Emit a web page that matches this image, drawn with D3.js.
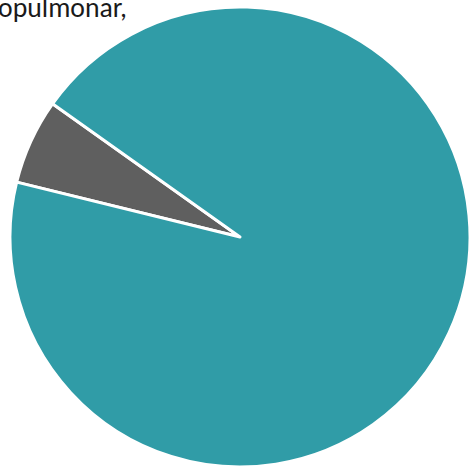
<!DOCTYPE html>
<html>
<head>
<meta charset="utf-8">
<script src="https://cdn.jsdelivr.net/npm/d3@7"></script>
<style>
  html, body { margin: 0; padding: 0; background: #fff; overflow: hidden; }
</style>
</head>
<body>
<script>
// data
var labels = ["Otros", "Cardiopulmonar"];
var values = [6, 94];
var colors = ["#5f5f5f", "#309ca7"];
var titleText = "opulmonar,";

// layout magic numbers
var w = 469;
var h = 468;
var cx = 240;
var cy = 237;
var radius = 230;
var firstAngle = -76.2 * Math.PI / 180;

var svg = d3.select("body")
            .append("svg")
            .attr("width", w)
            .attr("height", h);

var pie = d3.pie()
            .sort(null)
            .startAngle(firstAngle)
            .endAngle(firstAngle + 2 * Math.PI);

var arc = d3.arc()
            .innerRadius(0)
            .outerRadius(radius);

var color = d3.scaleOrdinal()
              .domain(labels)
              .range(colors);

svg.append("g")
   .attr("transform", "translate(" + cx + "," + cy + ")")
   .selectAll("path")
   .data(pie(values))
   .enter()
   .append("path")
   .attr("d", arc)
   .attr("fill", function(d, i) { return color(labels[i]); })
   .attr("stroke", "#fff")
   .attr("stroke-width", 3)
   .attr("stroke-linejoin", "round");

// title, cut off by the top-left corner
svg.append("text")
   .attr("x", -2)
   .attr("y", 17)
   .attr("font-family", "Carlito, Calibri, Lato, sans-serif")
   .attr("font-size", 28)
   .attr("fill", "#1a1a1a")
   .attr("textLength", 129)
   .attr("lengthAdjust", "spacingAndGlyphs")
   .text(titleText);
</script>
</body>
</html>
